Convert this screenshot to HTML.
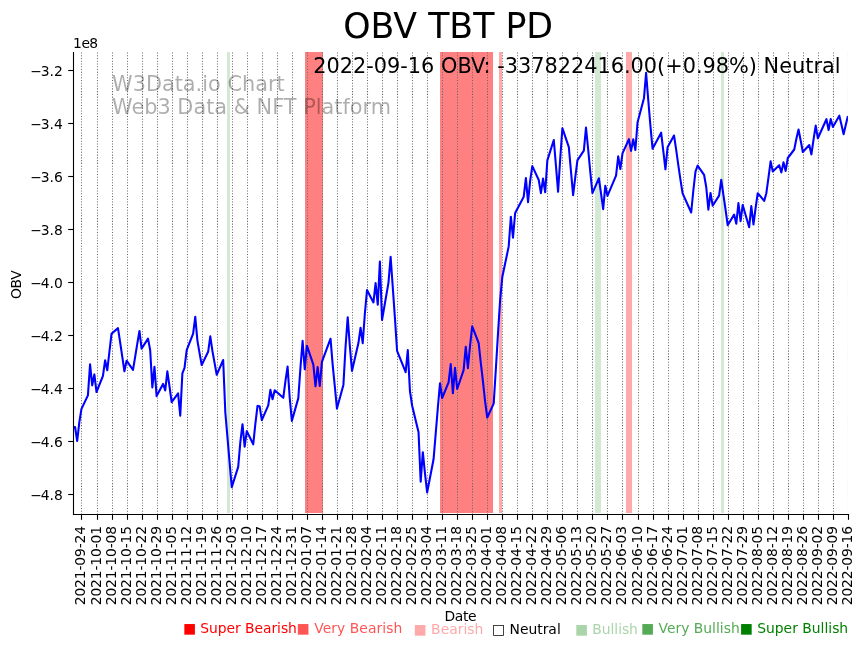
<!DOCTYPE html>
<html><head><meta charset="utf-8"><title>OBV TBT PD</title>
<style>html,body{margin:0;padding:0;background:#fff;}svg{display:block;}text{font-family:"DejaVu Sans","Liberation Sans",sans-serif;}</style>
</head><body>
<svg width="864" height="646" viewBox="0 0 864 646">
<rect x="0" y="0" width="864" height="646" fill="#ffffff"/>
<clipPath id="axclip"><rect x="73.5" y="52.0" width="774.45" height="462.5"/></clipPath>
<g id="bands">
<rect x="227.0" y="52.0" width="3.00" height="461.0" fill="#d3e9d3"/>
<rect x="305.0" y="52.0" width="18.00" height="461.0" fill="#ff8080"/>
<rect x="440.0" y="52.0" width="53.00" height="461.0" fill="#ff8080"/>
<rect x="499.0" y="52.0" width="3.00" height="461.0" fill="#ffaaaa"/>
<rect x="595.0" y="52.0" width="6.00" height="461.0" fill="#d3e9d3"/>
<rect x="626.0" y="52.0" width="6.00" height="461.0" fill="#ffaaaa"/>
<rect x="721.0" y="52.0" width="3.00" height="461.0" fill="#d3e9d3"/>
</g>
<g id="grid" stroke="#686868" stroke-width="1.04" stroke-dasharray="1.0417 1.7188" fill="none">
<line x1="81.5" y1="514.5" x2="81.5" y2="52.0"/>
<line x1="97.5" y1="514.5" x2="97.5" y2="52.0"/>
<line x1="112.5" y1="514.5" x2="112.5" y2="52.0"/>
<line x1="127.5" y1="514.5" x2="127.5" y2="52.0"/>
<line x1="142.5" y1="514.5" x2="142.5" y2="52.0"/>
<line x1="157.5" y1="514.5" x2="157.5" y2="52.0"/>
<line x1="172.5" y1="514.5" x2="172.5" y2="52.0"/>
<line x1="187.5" y1="514.5" x2="187.5" y2="52.0"/>
<line x1="202.5" y1="514.5" x2="202.5" y2="52.0"/>
<line x1="217.5" y1="514.5" x2="217.5" y2="52.0"/>
<line x1="232.5" y1="514.5" x2="232.5" y2="52.0"/>
<line x1="247.5" y1="514.5" x2="247.5" y2="52.0"/>
<line x1="262.5" y1="514.5" x2="262.5" y2="52.0"/>
<line x1="277.5" y1="514.5" x2="277.5" y2="52.0"/>
<line x1="292.5" y1="514.5" x2="292.5" y2="52.0"/>
<line x1="307.5" y1="514.5" x2="307.5" y2="52.0"/>
<line x1="322.5" y1="514.5" x2="322.5" y2="52.0"/>
<line x1="337.5" y1="514.5" x2="337.5" y2="52.0"/>
<line x1="352.5" y1="514.5" x2="352.5" y2="52.0"/>
<line x1="367.5" y1="514.5" x2="367.5" y2="52.0"/>
<line x1="382.5" y1="514.5" x2="382.5" y2="52.0"/>
<line x1="397.5" y1="514.5" x2="397.5" y2="52.0"/>
<line x1="412.5" y1="514.5" x2="412.5" y2="52.0"/>
<line x1="427.5" y1="514.5" x2="427.5" y2="52.0"/>
<line x1="442.5" y1="514.5" x2="442.5" y2="52.0"/>
<line x1="457.5" y1="514.5" x2="457.5" y2="52.0"/>
<line x1="472.5" y1="514.5" x2="472.5" y2="52.0"/>
<line x1="487.5" y1="514.5" x2="487.5" y2="52.0"/>
<line x1="502.5" y1="514.5" x2="502.5" y2="52.0"/>
<line x1="517.5" y1="514.5" x2="517.5" y2="52.0"/>
<line x1="532.5" y1="514.5" x2="532.5" y2="52.0"/>
<line x1="547.5" y1="514.5" x2="547.5" y2="52.0"/>
<line x1="562.5" y1="514.5" x2="562.5" y2="52.0"/>
<line x1="577.5" y1="514.5" x2="577.5" y2="52.0"/>
<line x1="592.5" y1="514.5" x2="592.5" y2="52.0"/>
<line x1="607.5" y1="514.5" x2="607.5" y2="52.0"/>
<line x1="622.5" y1="514.5" x2="622.5" y2="52.0"/>
<line x1="638.5" y1="514.5" x2="638.5" y2="52.0"/>
<line x1="653.5" y1="514.5" x2="653.5" y2="52.0"/>
<line x1="668.5" y1="514.5" x2="668.5" y2="52.0"/>
<line x1="683.5" y1="514.5" x2="683.5" y2="52.0"/>
<line x1="698.5" y1="514.5" x2="698.5" y2="52.0"/>
<line x1="713.5" y1="514.5" x2="713.5" y2="52.0"/>
<line x1="728.5" y1="514.5" x2="728.5" y2="52.0"/>
<line x1="743.5" y1="514.5" x2="743.5" y2="52.0"/>
<line x1="758.5" y1="514.5" x2="758.5" y2="52.0"/>
<line x1="773.5" y1="514.5" x2="773.5" y2="52.0"/>
<line x1="788.5" y1="514.5" x2="788.5" y2="52.0"/>
<line x1="803.5" y1="514.5" x2="803.5" y2="52.0"/>
<line x1="818.5" y1="514.5" x2="818.5" y2="52.0"/>
<line x1="833.5" y1="514.5" x2="833.5" y2="52.0"/>
<line x1="847.5" y1="514.5" x2="847.5" y2="52.0" stroke-opacity="0.07"/>
</g>
<g id="watermark" fill="#000000" fill-opacity="0.32" font-size="20.83px">
<text x="112.05" y="90.7">W3Data.io Chart</text>
<text x="112.1" y="114.2">Web3 Data &amp; NFT Platform</text>
</g>
<polyline clip-path="url(#axclip)" points="72.89,428.0 75.04,427.0 77.19,441.0 79.33,422.2 81.48,408.9 87.92,395.4 90.07,364.4 92.21,385.4 94.36,374.4 96.51,392.0 102.95,375.9 105.10,360.3 107.24,370.3 109.39,352.0 111.54,333.7 117.98,328.1 120.12,342.2 122.27,356.7 124.42,371.3 126.56,360.7 133.00,369.9 135.15,356.8 137.30,343.6 139.45,331.0 141.59,348.6 148.03,338.6 150.18,350.2 152.33,387.4 154.47,366.8 156.62,396.1 163.06,383.9 165.21,390.4 167.35,371.4 169.50,386.4 171.65,402.1 178.09,393.4 180.24,415.6 182.38,373.3 184.53,367.9 186.68,350.2 193.12,333.7 195.26,316.8 197.41,340.6 199.56,353.2 201.70,365.0 208.14,351.8 210.29,336.3 212.44,351.1 216.73,374.8 223.17,360.0 225.32,412.5 227.47,437.5 229.61,462.5 231.76,487.1 238.20,466.9 240.35,441.8 242.49,424.2 244.64,446.7 246.79,431.1 253.23,444.3 255.38,423.7 257.52,405.9 259.67,406.3 261.82,420.2 268.26,405.3 270.40,389.9 272.55,399.2 274.70,390.2 283.28,397.8 285.43,381.1 287.58,366.6 289.73,398.0 291.87,420.9 298.31,398.1 300.46,367.5 302.61,340.8 304.75,369.3 306.90,345.7 313.34,364.7 315.49,386.3 317.63,367.0 319.78,386.0 321.93,361.9 330.52,338.7 332.66,364.7 334.81,386.3 336.96,408.6 343.40,384.9 345.54,347.0 347.69,317.2 349.84,346.0 351.98,371.0 358.42,343.1 360.57,327.7 362.72,343.1 364.87,313.5 367.01,290.1 373.45,302.4 375.60,283.1 377.75,304.6 379.89,261.5 382.04,320.0 388.48,282.6 390.63,256.9 392.77,287.2 394.92,317.9 397.07,350.8 405.66,372.2 407.80,350.1 409.95,391.0 412.10,405.5 418.54,432.2 420.68,481.6 422.83,452.2 424.98,473.4 427.12,492.5 433.56,459.3 435.71,433.5 437.86,407.7 440.01,383.2 442.15,398.0 448.59,382.4 450.74,364.0 452.89,393.1 455.03,367.9 457.18,389.0 463.62,370.2 465.77,346.7 467.91,368.1 470.06,345.5 472.21,326.4 478.65,343.0 480.80,362.8 482.94,381.4 485.09,401.4 487.24,417.5 493.68,403.6 495.82,369.5 497.97,334.0 500.12,300.0 502.26,277.3 508.70,246.4 510.85,216.7 513.00,237.6 515.15,213.0 523.73,196.7 525.88,178.1 528.03,202.2 530.17,180.7 532.32,166.1 538.76,180.0 540.91,193.2 543.05,178.6 545.20,192.3 547.35,160.4 553.79,140.0 555.94,165.6 558.08,191.8 560.23,158.7 562.38,128.2 568.82,147.2 570.96,171.1 573.11,195.2 575.26,177.3 577.40,160.4 583.84,150.6 585.99,127.5 588.14,149.0 590.29,172.0 592.43,193.1 598.87,178.3 601.02,193.4 603.17,209.2 605.31,185.7 607.46,195.9 616.05,175.7 618.19,156.4 620.34,169.0 622.49,153.4 628.93,139.2 631.08,150.9 633.22,139.3 635.37,150.0 637.52,122.5 643.96,98.2 646.10,72.8 648.25,100.0 650.40,125.5 652.54,148.7 661.13,132.7 663.28,150.8 665.43,169.3 667.57,147.3 674.01,135.5 676.16,149.7 678.31,165.1 680.45,179.7 682.60,193.3 691.19,212.5 693.33,190.5 695.48,171.7 697.63,165.6 704.07,174.8 706.22,187.0 708.36,209.6 710.51,193.0 712.66,205.7 719.10,195.6 721.24,179.7 723.39,194.9 725.54,209.5 727.68,225.2 734.12,214.6 736.27,223.8 738.42,203.0 740.57,221.1 742.71,205.0 749.15,227.3 751.30,206.0 753.45,224.5 755.59,208.0 757.74,193.2 764.18,200.9 766.33,193.2 768.47,177.7 770.62,161.4 772.77,171.4 779.21,165.2 781.36,172.4 783.50,162.2 785.65,170.9 787.80,158.0 794.24,149.5 796.38,138.8 798.53,129.5 800.68,140.5 802.82,152.0 809.26,145.0 811.41,154.4 813.56,139.3 815.71,125.6 817.85,138.3 826.44,119.2 828.59,130.0 830.73,119.0 832.88,126.9 839.32,115.7 841.47,124.7 843.61,134.3 845.76,125.0 847.91,116.1" fill="none" stroke="#0000ff" stroke-width="2.08" stroke-linejoin="round" stroke-linecap="butt"/>
<g stroke="#000" stroke-width="1.1" fill="none">
<line x1="73.5" y1="52.0" x2="73.5" y2="515.05"/>
<line x1="72.95" y1="514.5" x2="849.05" y2="514.5"/>
</g>
<g stroke="#000" stroke-width="1.1">
<line x1="81.5" y1="514.5" x2="81.5" y2="519.80"/>
<line x1="97.5" y1="514.5" x2="97.5" y2="519.80"/>
<line x1="112.5" y1="514.5" x2="112.5" y2="519.80"/>
<line x1="127.5" y1="514.5" x2="127.5" y2="519.80"/>
<line x1="142.5" y1="514.5" x2="142.5" y2="519.80"/>
<line x1="157.5" y1="514.5" x2="157.5" y2="519.80"/>
<line x1="172.5" y1="514.5" x2="172.5" y2="519.80"/>
<line x1="187.5" y1="514.5" x2="187.5" y2="519.80"/>
<line x1="202.5" y1="514.5" x2="202.5" y2="519.80"/>
<line x1="217.5" y1="514.5" x2="217.5" y2="519.80"/>
<line x1="232.5" y1="514.5" x2="232.5" y2="519.80"/>
<line x1="247.5" y1="514.5" x2="247.5" y2="519.80"/>
<line x1="262.5" y1="514.5" x2="262.5" y2="519.80"/>
<line x1="277.5" y1="514.5" x2="277.5" y2="519.80"/>
<line x1="292.5" y1="514.5" x2="292.5" y2="519.80"/>
<line x1="307.5" y1="514.5" x2="307.5" y2="519.80"/>
<line x1="322.5" y1="514.5" x2="322.5" y2="519.80"/>
<line x1="337.5" y1="514.5" x2="337.5" y2="519.80"/>
<line x1="352.5" y1="514.5" x2="352.5" y2="519.80"/>
<line x1="367.5" y1="514.5" x2="367.5" y2="519.80"/>
<line x1="382.5" y1="514.5" x2="382.5" y2="519.80"/>
<line x1="397.5" y1="514.5" x2="397.5" y2="519.80"/>
<line x1="412.5" y1="514.5" x2="412.5" y2="519.80"/>
<line x1="427.5" y1="514.5" x2="427.5" y2="519.80"/>
<line x1="442.5" y1="514.5" x2="442.5" y2="519.80"/>
<line x1="457.5" y1="514.5" x2="457.5" y2="519.80"/>
<line x1="472.5" y1="514.5" x2="472.5" y2="519.80"/>
<line x1="487.5" y1="514.5" x2="487.5" y2="519.80"/>
<line x1="502.5" y1="514.5" x2="502.5" y2="519.80"/>
<line x1="517.5" y1="514.5" x2="517.5" y2="519.80"/>
<line x1="532.5" y1="514.5" x2="532.5" y2="519.80"/>
<line x1="547.5" y1="514.5" x2="547.5" y2="519.80"/>
<line x1="562.5" y1="514.5" x2="562.5" y2="519.80"/>
<line x1="577.5" y1="514.5" x2="577.5" y2="519.80"/>
<line x1="592.5" y1="514.5" x2="592.5" y2="519.80"/>
<line x1="607.5" y1="514.5" x2="607.5" y2="519.80"/>
<line x1="622.5" y1="514.5" x2="622.5" y2="519.80"/>
<line x1="638.5" y1="514.5" x2="638.5" y2="519.80"/>
<line x1="653.5" y1="514.5" x2="653.5" y2="519.80"/>
<line x1="668.5" y1="514.5" x2="668.5" y2="519.80"/>
<line x1="683.5" y1="514.5" x2="683.5" y2="519.80"/>
<line x1="698.5" y1="514.5" x2="698.5" y2="519.80"/>
<line x1="713.5" y1="514.5" x2="713.5" y2="519.80"/>
<line x1="728.5" y1="514.5" x2="728.5" y2="519.80"/>
<line x1="743.5" y1="514.5" x2="743.5" y2="519.80"/>
<line x1="758.5" y1="514.5" x2="758.5" y2="519.80"/>
<line x1="773.5" y1="514.5" x2="773.5" y2="519.80"/>
<line x1="788.5" y1="514.5" x2="788.5" y2="519.80"/>
<line x1="803.5" y1="514.5" x2="803.5" y2="519.80"/>
<line x1="818.5" y1="514.5" x2="818.5" y2="519.80"/>
<line x1="833.5" y1="514.5" x2="833.5" y2="519.80"/>
<line x1="848.5" y1="514.5" x2="848.5" y2="519.80"/>
<line x1="73.5" y1="70.5" x2="68.20" y2="70.5"/>
<line x1="73.5" y1="123.5" x2="68.20" y2="123.5"/>
<line x1="73.5" y1="176.5" x2="68.20" y2="176.5"/>
<line x1="73.5" y1="229.5" x2="68.20" y2="229.5"/>
<line x1="73.5" y1="282.5" x2="68.20" y2="282.5"/>
<line x1="73.5" y1="335.5" x2="68.20" y2="335.5"/>
<line x1="73.5" y1="388.5" x2="68.20" y2="388.5"/>
<line x1="73.5" y1="441.5" x2="68.20" y2="441.5"/>
<line x1="73.5" y1="494.5" x2="68.20" y2="494.5"/>
</g>
<g font-size="13.89px" fill="#000" text-anchor="end">
<text x="62.8" y="75.6">−<tspan dx="-1.2">3.2</tspan></text>
<text x="62.8" y="128.6">−<tspan dx="-1.2">3.4</tspan></text>
<text x="62.8" y="181.6">−<tspan dx="-1.2">3.6</tspan></text>
<text x="62.8" y="234.6">−<tspan dx="-1.2">3.8</tspan></text>
<text x="62.8" y="287.6">−<tspan dx="-1.2">4.0</tspan></text>
<text x="62.8" y="340.7">−<tspan dx="-1.2">4.2</tspan></text>
<text x="62.8" y="393.7">−<tspan dx="-1.2">4.4</tspan></text>
<text x="62.8" y="446.7">−<tspan dx="-1.2">4.6</tspan></text>
<text x="62.8" y="499.7">−<tspan dx="-1.2">4.8</tspan></text>
</g>
<g font-size="13.89px" fill="#000" text-anchor="end">
<text transform="translate(85.1,526.0) rotate(-90)" textLength="79.3">2021-09-24</text>
<text transform="translate(101.1,526.0) rotate(-90)" textLength="79.3">2021-10-01</text>
<text transform="translate(116.1,526.0) rotate(-90)" textLength="79.3">2021-10-08</text>
<text transform="translate(131.1,526.0) rotate(-90)" textLength="79.3">2021-10-15</text>
<text transform="translate(146.1,526.0) rotate(-90)" textLength="79.3">2021-10-22</text>
<text transform="translate(161.1,526.0) rotate(-90)" textLength="79.3">2021-10-29</text>
<text transform="translate(176.1,526.0) rotate(-90)" textLength="79.3">2021-11-05</text>
<text transform="translate(191.1,526.0) rotate(-90)" textLength="79.3">2021-11-12</text>
<text transform="translate(206.1,526.0) rotate(-90)" textLength="79.3">2021-11-19</text>
<text transform="translate(221.1,526.0) rotate(-90)" textLength="79.3">2021-11-26</text>
<text transform="translate(236.1,526.0) rotate(-90)" textLength="79.3">2021-12-03</text>
<text transform="translate(251.1,526.0) rotate(-90)" textLength="79.3">2021-12-10</text>
<text transform="translate(266.1,526.0) rotate(-90)" textLength="79.3">2021-12-17</text>
<text transform="translate(281.1,526.0) rotate(-90)" textLength="79.3">2021-12-24</text>
<text transform="translate(296.1,526.0) rotate(-90)" textLength="79.3">2021-12-31</text>
<text transform="translate(311.1,526.0) rotate(-90)" textLength="79.3">2022-01-07</text>
<text transform="translate(326.1,526.0) rotate(-90)" textLength="79.3">2022-01-14</text>
<text transform="translate(341.1,526.0) rotate(-90)" textLength="79.3">2022-01-21</text>
<text transform="translate(356.1,526.0) rotate(-90)" textLength="79.3">2022-01-28</text>
<text transform="translate(371.1,526.0) rotate(-90)" textLength="79.3">2022-02-04</text>
<text transform="translate(386.1,526.0) rotate(-90)" textLength="79.3">2022-02-11</text>
<text transform="translate(401.1,526.0) rotate(-90)" textLength="79.3">2022-02-18</text>
<text transform="translate(416.1,526.0) rotate(-90)" textLength="79.3">2022-02-25</text>
<text transform="translate(431.1,526.0) rotate(-90)" textLength="79.3">2022-03-04</text>
<text transform="translate(446.1,526.0) rotate(-90)" textLength="79.3">2022-03-11</text>
<text transform="translate(461.1,526.0) rotate(-90)" textLength="79.3">2022-03-18</text>
<text transform="translate(476.1,526.0) rotate(-90)" textLength="79.3">2022-03-25</text>
<text transform="translate(491.1,526.0) rotate(-90)" textLength="79.3">2022-04-01</text>
<text transform="translate(506.1,526.0) rotate(-90)" textLength="79.3">2022-04-08</text>
<text transform="translate(521.1,526.0) rotate(-90)" textLength="79.3">2022-04-15</text>
<text transform="translate(536.1,526.0) rotate(-90)" textLength="79.3">2022-04-22</text>
<text transform="translate(551.1,526.0) rotate(-90)" textLength="79.3">2022-04-29</text>
<text transform="translate(566.1,526.0) rotate(-90)" textLength="79.3">2022-05-06</text>
<text transform="translate(581.1,526.0) rotate(-90)" textLength="79.3">2022-05-13</text>
<text transform="translate(596.1,526.0) rotate(-90)" textLength="79.3">2022-05-20</text>
<text transform="translate(611.1,526.0) rotate(-90)" textLength="79.3">2022-05-27</text>
<text transform="translate(626.1,526.0) rotate(-90)" textLength="79.3">2022-06-03</text>
<text transform="translate(642.1,526.0) rotate(-90)" textLength="79.3">2022-06-10</text>
<text transform="translate(657.1,526.0) rotate(-90)" textLength="79.3">2022-06-17</text>
<text transform="translate(672.1,526.0) rotate(-90)" textLength="79.3">2022-06-24</text>
<text transform="translate(687.1,526.0) rotate(-90)" textLength="79.3">2022-07-01</text>
<text transform="translate(702.1,526.0) rotate(-90)" textLength="79.3">2022-07-08</text>
<text transform="translate(717.1,526.0) rotate(-90)" textLength="79.3">2022-07-15</text>
<text transform="translate(732.1,526.0) rotate(-90)" textLength="79.3">2022-07-22</text>
<text transform="translate(747.1,526.0) rotate(-90)" textLength="79.3">2022-07-29</text>
<text transform="translate(762.1,526.0) rotate(-90)" textLength="79.3">2022-08-05</text>
<text transform="translate(777.1,526.0) rotate(-90)" textLength="79.3">2022-08-12</text>
<text transform="translate(792.1,526.0) rotate(-90)" textLength="79.3">2022-08-19</text>
<text transform="translate(807.1,526.0) rotate(-90)" textLength="79.3">2022-08-26</text>
<text transform="translate(822.1,526.0) rotate(-90)" textLength="79.3">2022-09-02</text>
<text transform="translate(837.1,526.0) rotate(-90)" textLength="79.3">2022-09-09</text>
<text transform="translate(852.1,526.0) rotate(-90)" textLength="79.3">2022-09-16</text>
</g>
<text x="460.5" y="620.8" font-size="13.89px" text-anchor="middle" textLength="32.0" fill="#000">Date</text>
<text transform="translate(21.2,299.0) rotate(-90)" font-size="13.89px" textLength="28.85" fill="#000">OBV</text>
<text x="73.1" y="47.9" font-size="13.89px" textLength="25.1" fill="#000">1e8</text>
<text x="448.2" y="37.5" font-size="34.72px" text-anchor="middle" fill="#000">OBV TBT PD</text>
<text x="840.5" y="72.9" font-size="20.83px" text-anchor="end" fill="#000">2022-09-16 OBV: -337822416.00(+0.98%) Neutral</text>
<g font-size="13.89px">
<text x="182.9" y="632.7" fill="#ff0000" textLength="113.95">■ Super Bearish</text>
<text x="296.5" y="632.7" fill="#ff5555" textLength="105.8">■ Very Bearish</text>
<text x="413.6" y="633.9" fill="#ffaaaa">■ Bearish</text>
<text x="492.0" y="633.9" fill="#000000">□ Neutral</text>
<text x="574.9" y="633.6" fill="#aad5aa" textLength="63.0">■ Bullish</text>
<text x="641.0" y="632.6" fill="#55aa55">■ Very Bullish</text>
<text x="739.7" y="632.6" fill="#008000">■ Super Bullish</text>
</g>
</svg></body></html>
